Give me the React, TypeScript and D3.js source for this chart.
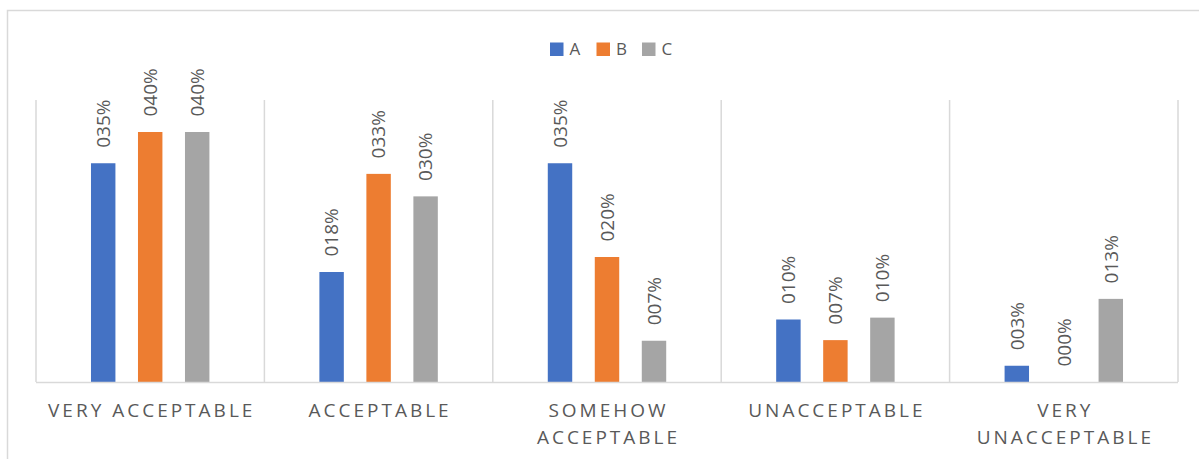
import React from "react";
import * as d3 from "d3";

const categories = ["VERY ACCEPTABLE", "ACCEPTABLE", "SOMEHOW ACCEPTABLE", "UNACCEPTABLE", "VERY UNACCEPTABLE"];
const seriesNames = ["A", "B", "C"];
const seriesA = [35, 17.6, 35, 10, 2.6];
const seriesB = [40, 33.3, 20, 6.7, 0];
const seriesC = [40, 29.7, 6.6, 10.3, 13.3];
const colors = ["#4472C4", "#ED7D31", "#A5A5A5"];
const yMax = 45;

const W = 1199;
const H = 459;
const plot = { left: 36, right: 1178, top: 100.75, bottom: 382 };
const FONT = "'Open Sans', 'Liberation Sans', sans-serif";
const TEXT = "#595959";
const GRID = "#D9D9D9";

function wrapLabel(s: string): string[] {
  const estWidth = s.length * 13.7;
  if (estWidth <= 222) return [s];
  const words = s.split(" ");
  const first = words.slice(0, words.length - 1).join(" ");
  return [first, words[words.length - 1]];
}

export default function App() {
  const values = [seriesA, seriesB, seriesC];
  const x0 = d3.scaleBand<string>().domain(categories).range([plot.left, plot.right]).padding(0);
  const x1 = d3
    .scaleBand<string>()
    .domain(seriesNames)
    .range([0, x0.bandwidth()])
    .paddingInner(0.48)
    .paddingOuter(1.17);
  const y = d3.scaleLinear().domain([0, yMax]).range([plot.bottom, plot.top]);

  const fmt = (v: number) => String(Math.round(v)).padStart(3, "0") + "%";

  // legend layout
  const legendItemWidths = [46.5, 45.5, 46];
  const legendStart = 550;

  return (
    <svg
      width={W}
      height={H}
      style={{ position: "absolute", left: 0, top: 0, background: "#fff" }}
      fontFamily={FONT}
    >
      <rect x={0} y={0} width={W} height={H} fill="#fff" />
      <rect x={7.5} y={10.5} width={W + 20} height={H + 20} fill="none" stroke={GRID} strokeWidth={1.5} />

      {/* category separators */}
      {categories.map((c, i) => (
        <line
          key={"sep" + i}
          x1={x0(c)!}
          x2={x0(c)!}
          y1={plot.top - 0.75}
          y2={plot.bottom}
          stroke={GRID}
          strokeWidth={1.5}
        />
      ))}
      <line x1={plot.right} x2={plot.right} y1={plot.top - 0.75} y2={plot.bottom} stroke={GRID} strokeWidth={1.5} />

      {/* bars */}
      {categories.map((c, ci) =>
        seriesNames.map((s, si) => {
          const v = values[si][ci];
          const bx = x0(c)! + x1(s)!;
          const by = y(v);
          return (
            <rect
              key={c + s}
              x={bx}
              y={by}
              width={x1.bandwidth()}
              height={plot.bottom - by}
              fill={colors[si]}
            />
          );
        })
      )}

      {/* axis line */}
      <line x1={plot.left} x2={plot.right} y1={plot.bottom + 0.5} y2={plot.bottom + 0.5} stroke={GRID} strokeWidth={1.5} />

      {/* value labels */}
      {categories.map((c, ci) =>
        seriesNames.map((s, si) => {
          const v = values[si][ci];
          const cx = x0(c)! + x1(s)! + x1.bandwidth() / 2;
          const ty = y(v) - 15.5;
          return (
            <text
              key={"lbl" + c + s}
              transform={`translate(${cx},${ty}) rotate(-90)`}
              dy="0.36em"
              fontSize={19}
              fill={TEXT}
              textAnchor="start"
            >
              {fmt(v)}
            </text>
          );
        })
      )}

      {/* category labels */}
      {categories.map((c, ci) => {
        const lines = wrapLabel(c);
        const cx = x0(c)! + x0.bandwidth() / 2 + 1.5;
        return (
          <text key={"cat" + ci} fontSize={19} fill={TEXT} textAnchor="middle" letterSpacing={3}>
            {lines.map((l, li) => (
              <tspan key={li} x={cx} y={417.3 + li * 27}>
                {l}
              </tspan>
            ))}
          </text>
        );
      })}

      {/* legend */}
      {seriesNames.map((s, i) => {
        const lx = legendStart + d3.sum(legendItemWidths.slice(0, i));
        return (
          <g key={"leg" + s}>
            <rect x={lx} y={42.5} width={13.5} height={13.5} fill={colors[i]} />
            <text x={lx + 19.5} y={55} fontSize={17} fill={TEXT}>
              {s}
            </text>
          </g>
        );
      })}
    </svg>
  );
}
